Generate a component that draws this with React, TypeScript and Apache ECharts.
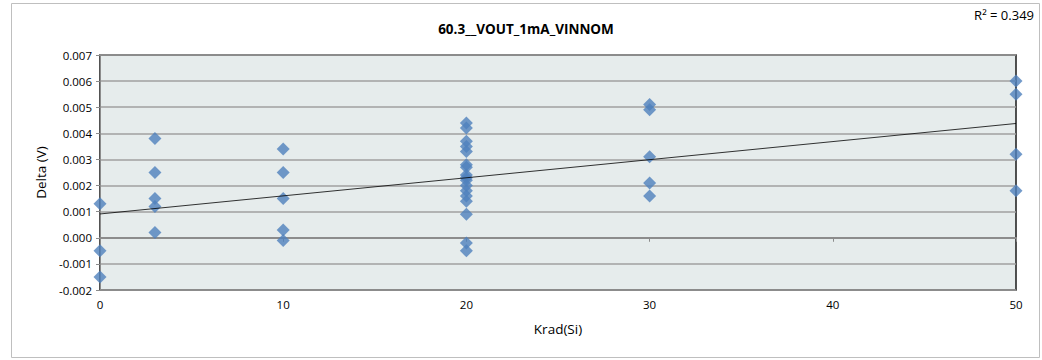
import React, { useEffect, useRef } from "react";
import * as echarts from "echarts";

const title = "60.3__VOUT_1mA_VINNOM";
const xName = "Krad(Si)";
const yName = "Delta (V)";
const r2Label = "R² = 0.349";

const x0 = [0, 0, 0];
const y0 = [0.0013, -0.0005, -0.0015];
const x3 = [3, 3, 3, 3, 3];
const y3 = [0.0038, 0.0025, 0.0015, 0.0012, 0.0002];
const x10 = [10, 10, 10, 10, 10];
const y10 = [0.0034, 0.0025, 0.0015, 0.0003, -0.0001];
const x20 = [20, 20, 20, 20, 20, 20, 20, 20, 20, 20, 20, 20, 20, 20, 20, 20, 20];
const y20 = [0.0044, 0.0042, 0.0037, 0.0035, 0.0033, 0.0028, 0.0027, 0.0024, 0.0023, 0.0022, 0.002, 0.0018, 0.0016, 0.0014, 0.0009, -0.0002, -0.0005];
const x30 = [30, 30, 30, 30, 30];
const y30 = [0.0051, 0.0049, 0.0031, 0.0021, 0.0016];
const x50 = [50, 50, 50, 50];
const y50 = [0.006, 0.0055, 0.0032, 0.0018];

const xTicks = [0, 10, 20, 30, 40, 50];
const yMin = -0.002;
const yMax = 0.007;
const yStep = 0.001;

export default function App() {
  const ref = useRef<HTMLDivElement>(null);
  useEffect(() => {
    document.body.style.margin = "0";
    if (!ref.current) return;
    const chart = echarts.init(ref.current, undefined, { renderer: "svg" });
    const xs = [...x0, ...x3, ...x10, ...x20, ...x30, ...x50];
    const ys = [...y0, ...y3, ...y10, ...y20, ...y30, ...y50];
    const pts = xs.map((x, i) => [x, ys[i]]);
    const n = xs.length;
    const mx = xs.reduce((a, b) => a + b, 0) / n;
    const my = ys.reduce((a, b) => a + b, 0) / n;
    let sxy = 0, sxx = 0;
    for (let i = 0; i < n; i++) {
      sxy += (xs[i] - mx) * (ys[i] - my);
      sxx += (xs[i] - mx) * (xs[i] - mx);
    }
    const b = sxy / sxx;
    const a = my - b * mx;
    const xMin = xTicks[0];
    const xMax = xTicks[xTicks.length - 1];
    const font = "'Open Sans', 'Liberation Sans', sans-serif";
    chart.setOption({
      animation: false,
      textStyle: { fontFamily: font },
      title: {
        text: title,
        left: 521,
        top: 17,
        textAlign: "center",
        textStyle: { fontSize: 13.5, fontWeight: "bold", color: "#000", fontFamily: font },
      },
      graphic: [
        {
          type: "rect",
          shape: { x: 11.5, y: 3.5, width: 1028, height: 354 },
          style: { fill: "none", stroke: "#BFBFBF", lineWidth: 1 },
          silent: true,
        },
        {
          type: "text",
          right: 8,
          top: 8,
          style: { text: r2Label, fontSize: 13, fill: "#000", fontFamily: font },
        },
      ],
      grid: {
        left: 100,
        right: 26,
        top: 55,
        bottom: 70,
        show: true,
        backgroundColor: "#E6ECEC",
        borderColor: "#1a1a1a",
        borderWidth: 1.5,
      },
      xAxis: {
        type: "value",
        min: xMin,
        max: xMax,
        interval: 10,
        name: xName,
        nameLocation: "middle",
        nameGap: 32,
        nameTextStyle: { fontSize: 13.5, color: "#000", fontFamily: font },
        axisLine: { show: true, lineStyle: { color: "#8C8C8C", width: 2 } },
        axisTick: { show: true, length: 4, lineStyle: { color: "#8C8C8C" } },
        axisLabel: { fontSize: 11.5, color: "#000", margin: 8 },
        splitLine: { show: false },
      },
      yAxis: {
        type: "value",
        min: yMin,
        max: yMax,
        interval: yStep,
        name: yName,
        nameLocation: "middle",
        nameGap: 52,
        nameTextStyle: { fontSize: 13.5, color: "#000", fontFamily: font },
        axisLine: { show: true, lineStyle: { color: "#8C8C8C", width: 1 } },
        axisTick: { show: true, length: 4, lineStyle: { color: "#8C8C8C" } },
        axisLabel: {
          fontSize: 11.5,
          color: "#000",
          margin: 8,
          formatter: (v: number) => v.toFixed(3),
        },
        splitLine: { show: true, lineStyle: { color: "#A0A0A0", width: 1.5 } },
      },
      series: [
        {
          type: "scatter",
          data: pts,
          symbol: "diamond",
          symbolSize: 13,
          itemStyle: { color: "#4F81BD" },
          z: 3,
        },
        {
          type: "line",
          data: [
            [xMin, a + b * xMin],
            [xMax, a + b * xMax],
          ],
          symbol: "none",
          lineStyle: { color: "#000", width: 0.8 },
          z: 4,
        },
      ],
    });
    return () => chart.dispose();
  }, []);
  return <div ref={ref} style={{ width: 1042, height: 360 }} />;
}
